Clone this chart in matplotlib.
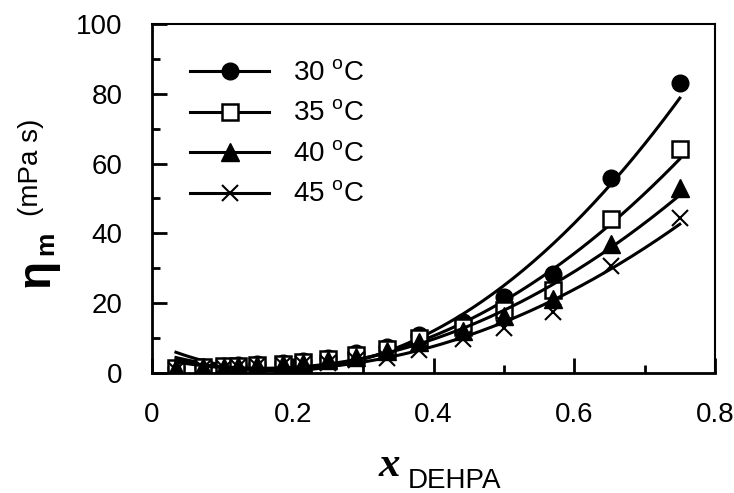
import matplotlib
matplotlib.use("Agg")
import matplotlib.pyplot as plt
import numpy as np

plt.rcParams["font.family"] = ["Liberation Sans", "DejaVu Sans"]
plt.rcParams["mathtext.fontset"] = "custom"
plt.rcParams["mathtext.rm"] = "Liberation Sans"

x_dehpa = [0.034, 0.072, 0.102, 0.122, 0.149, 0.186, 0.215, 0.250,
           0.290, 0.334, 0.379, 0.442, 0.500, 0.570, 0.652, 0.750]
eta_30 = [1.5, 1.8, 2.0, 2.2, 2.5, 2.9, 3.4, 4.2, 5.8, 7.5, 10.9, 14.6, 21.8, 28.4, 56.0, 83.0]
eta_35 = [1.4, 1.7, 1.9, 2.1, 2.3, 2.7, 3.2, 3.9, 5.2, 6.9, 10.0, 13.2, 18.0, 23.8, 44.0, 64.3]
eta_40 = [1.3, 1.6, 1.8, 2.0, 2.2, 2.6, 3.0, 3.6, 4.7, 6.3, 9.0, 12.0, 16.3, 21.3, 36.9, 52.9]
eta_45 = [1.0, 1.3, 1.5, 1.7, 1.9, 2.2, 2.5, 3.0, 3.6, 4.4, 6.7, 9.6, 13.0, 17.5, 30.7, 44.3]

series = [
    ("30", eta_30, dict(marker="o", markersize=12, markerfacecolor="black")),
    ("35", eta_35, dict(marker="s", markersize=11, markerfacecolor="white", markeredgewidth=1.8)),
    ("40", eta_40, dict(marker="^", markersize=13, markerfacecolor="black")),
    ("45", eta_45, dict(marker="x", markersize=11, markeredgewidth=1.5)),
]

fig = plt.figure(figsize=(7.34, 4.93), dpi=100)
ax = fig.add_axes([0.2071, 0.2434, 0.767, 0.708])

x = np.array(x_dehpa)
xs = np.linspace(x[0], x[-1], 200)
for temp, eta, style in series:
    # quadratic trend line like the original spreadsheet fit
    coef = np.polyfit(x, eta, 2)
    ax.plot(xs, np.polyval(coef, xs), color="black", lw=2.2)
    ax.plot(x, eta, linestyle="none", color="black", markeredgecolor="black", **style)
    # legend proxy
    ax.plot([], [], color="black", lw=2.2, markeredgecolor="black",
            label=f"{temp} $^\\mathregular{{o}}$C", **style)

ax.set_xlim(0, 0.8)
ax.set_ylim(0, 100)
ax.set_xticks(np.arange(0, 0.81, 0.2))
ax.set_xticks(np.arange(0.1, 0.8, 0.2), minor=True)
ax.set_yticks(np.arange(0, 101, 20))
ax.set_yticks(np.arange(10, 100, 20), minor=True)
ax.set_xticklabels(["0", "0.2", "0.4", "0.6", "0.8"])
ax.tick_params(which="both", direction="in", width=2, labelsize=20, pad=21)
ax.tick_params(which="major", length=11)
ax.tick_params(which="minor", length=6)
for side in ["left", "bottom"]:
    ax.spines[side].set_linewidth(2)
for side in ["top", "right"]:
    ax.spines[side].set_linewidth(1.5)

ax.legend(loc="upper left", bbox_to_anchor=(0.0675, 0.894), frameon=False, fontsize=20,
          handlelength=2.85, handletextpad=0.86, labelspacing=0.52, borderaxespad=0,
          borderpad=0)

# axis labels built from pieces to mimic the mixed fonts
fig.text(37 / 734, 1 - 273 / 493, "η", rotation=90, fontsize=33, fontweight="bold",
         ha="center", va="center")
fig.text(46 / 734, 1 - 243 / 493, "m", rotation=90, fontsize=19, fontweight="bold",
         ha="center", va="center")
fig.text(31 / 734, 1 - 167 / 493, "(mPa s)", rotation=90, fontsize=20, ha="center", va="center")

fig.text(389 / 734, 1 - 466 / 493, "x", family="Liberation Serif", fontweight="bold",
         style="italic", fontsize=31, ha="center", va="center")
fig.text(455 / 734, 1 - 488 / 493, "DEHPA", fontsize=20, ha="center", va="baseline")

fig.savefig("out.png", dpi=100)
